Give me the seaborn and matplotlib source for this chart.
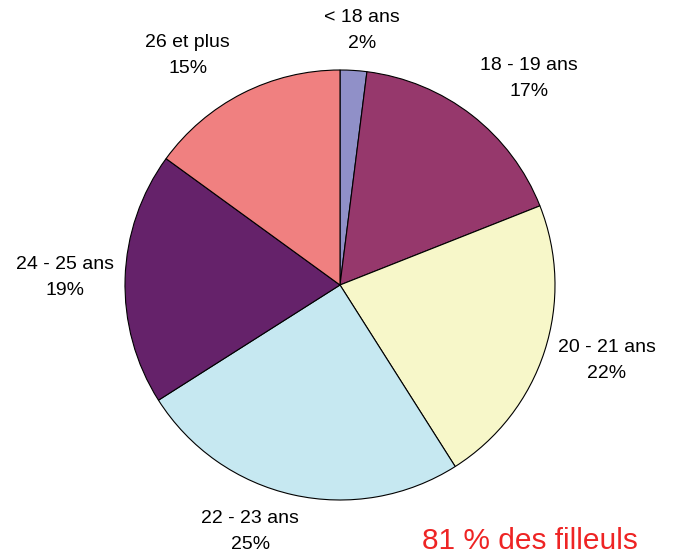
import matplotlib
matplotlib.use("Agg")
import matplotlib.pyplot as plt
import numpy as np
import seaborn as sns

categories = ["< 18 ans", "18 - 19 ans", "20 - 21 ans", "22 - 23 ans", "24 - 25 ans", "26 et plus"]
percents = [2, 17, 22, 25, 19, 15]
colors = ["#9090c8", "#96386c", "#f7f7c9", "#c6e8f1", "#65226a", "#f08080"]
note = "81 % des filleuls"

# label placement (angle in degrees, distance in radii)
label_angle = [85, 47.5, -15.7, -110, 178.5, 123.6]
label_dist = [1.19, 1.30, 1.29, 1.22, 1.28, 1.28]

sns.set_theme(style="white")
plt.rcParams["font.family"] = ["Liberation Sans", "DejaVu Sans"]

fig = plt.figure(figsize=(6.74, 5.59), dpi=100)
# pie centred around (340, 285) px with radius ~215 px
ax = fig.add_axes([125 / 674, 59 / 559, 430 / 674, 430 / 559])

labels = [f"{c}\n{p}%" for c, p in zip(categories, percents)]
wedges, texts = ax.pie(percents, labels=labels, colors=colors, startangle=90,
                       counterclock=False,
                       wedgeprops=dict(edgecolor="black", linewidth=0.8))
for t, a, d in zip(texts, label_angle, label_dist):
    t.set_position((d * np.cos(np.radians(a)), d * np.sin(np.radians(a))))
    t.set_horizontalalignment("center")
    t.set_verticalalignment("center")
    t.set_fontsize(14)
    t.set_linespacing(1.7)
    t.set_color("black")
    t.set_clip_on(False)
ax.set_xlim(-1, 1)
ax.set_ylim(-1, 1)
ax.set_aspect("equal")

fig.text(530 / 674, 1 - 541 / 559, note, color="#ee2424", fontsize=21.5,
         ha="center", va="center")

fig.savefig("out.png", dpi=100)
